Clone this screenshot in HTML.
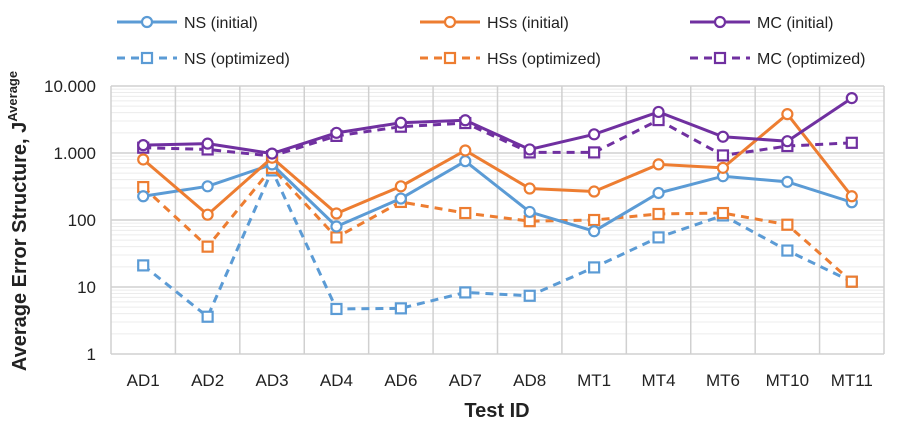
<!DOCTYPE html>
<html><head><meta charset="utf-8"><style>
body{margin:0;background:#fff;font-family:"Liberation Sans",Arial,sans-serif}
svg{display:block}
</style></head><body>
<svg id="chart" width="909" height="432" viewBox="0 0 909 432" xmlns="http://www.w3.org/2000/svg">
<g id="grid"></g>
<g id="series"></g>
<g id="axes"></g>
<g id="legend"></g>
<text x="0" y="0" transform="translate(26,221) rotate(-90)" text-anchor="middle" font-size="20" font-weight="bold" fill="#222">Average Error Structure, J<tspan dy="-9" font-size="13">Average</tspan></text>
<text x="497" y="417" text-anchor="middle" font-size="20" font-weight="bold" fill="#222">Test ID</text>
</svg>
<script>
const categories=["AD1","AD2","AD3","AD4","AD6","AD7","AD8","MT1","MT4","MT6","MT10","MT11"];
const nsInitial=[226,318,676,80,209,755,132,68,253,450,371,184];
const hssInitial=[800,120,850,125,318,1090,295,266,676,600,3800,226];
const mcInitial=[1310,1380,980,2000,2830,3080,1130,1900,4100,1750,1500,6600];
const nsOptimized=[21,3.6,550,4.7,4.8,8.3,7.4,19.6,55,117,35,12];
const hssOptimized=[310,40,600,55,186,127,96,100,123,127,85,12];
const mcOptimized=[1200,1130,900,1800,2470,2800,1020,1020,3100,920,1270,1420];
const yTickLabels=["1","10","100","1.000","10.000"];

const NS="http://www.w3.org/2000/svg";
const L=111,R=884,T=86,B=354;
const xs=i=>L+(R-L)/categories.length*(i+0.5);
const ys=v=>B-(B-T)*Math.log10(v)/4;
function mk(tag,attrs,parent){const e=document.createElementNS(NS,tag);for(const k in attrs)e.setAttribute(k,attrs[k]);parent.appendChild(e);return e;}
const grid=document.getElementById('grid'),axes=document.getElementById('axes'),ser=document.getElementById('series'),leg=document.getElementById('legend');
for(let d=0;d<4;d++)for(let m=2;m<10;m++){const y=ys(Math.pow(10,d)*m);const l=mk('line',{x1:L,x2:R,y1:y,y2:y,stroke:'#ececec','stroke-width':1},grid);

}
yTickLabels.forEach((t,i)=>{const y=ys(Math.pow(10,i));const l=mk('line',{x1:L,x2:R,y1:y,y2:y,stroke:'#d0d0d0','stroke-width':1.5},grid);


const tx=mk('text',{x:96,y:y+6,'text-anchor':'end','font-size':17,fill:'#222'},axes);tx.textContent=t;

});
for(let i=0;i<=categories.length;i++){const x=L+(R-L)/categories.length*i;const l=mk('line',{x1:x,x2:x,y1:T,y2:B,stroke:'#d0d0d0','stroke-width':1.5},grid);

}
categories.forEach((c,i)=>{const tx=mk('text',{x:xs(i),y:386,'text-anchor':'middle','font-size':17,fill:'#222'},axes);tx.textContent=c;

});
const defs=[
 {name:'ns-optimized',data:nsOptimized,color:'#5b9bd5',dash:true,label:'NS (optimized)',lx:117,ly:58},
 {name:'hss-optimized',data:hssOptimized,color:'#ed7d31',dash:true,label:'HSs (optimized)',lx:420,ly:58},
 {name:'mc-optimized',data:mcOptimized,color:'#7030a0',dash:true,label:'MC (optimized)',lx:690,ly:58},
 {name:'ns-initial',data:nsInitial,color:'#5b9bd5',dash:false,label:'NS (initial)',lx:117,ly:22},
 {name:'hss-initial',data:hssInitial,color:'#ed7d31',dash:false,label:'HSs (initial)',lx:420,ly:22},
 {name:'mc-initial',data:mcInitial,color:'#7030a0',dash:false,label:'MC (initial)',lx:690,ly:22}];
function marker(x,y,s,parent){
 if(s.dash)return mk('rect',{x:x-5,y:y-5,width:10,height:10,fill:'#fff',stroke:s.color,'stroke-width':2.2},parent);
 return mk('circle',{cx:x,cy:y,r:5,fill:'#fff',stroke:s.color,'stroke-width':2.2},parent);}
defs.forEach(s=>{const g=mk('g',{},ser);
 
 
 const p=mk('polyline',{points:s.data.map((v,i)=>xs(i)+','+ys(v)).join(' '),fill:'none',stroke:s.color,'stroke-width':3,'stroke-dasharray':s.dash?'8,6':'none'},g);
 
 
 s.data.forEach((v,i)=>{const m=marker(xs(i),ys(v),s,g);
 
 });
 const lg=mk('g',{},leg);
 
 
 mk('line',{x1:s.lx,x2:s.lx+60,y1:s.ly,y2:s.ly,stroke:s.color,'stroke-width':3,'stroke-dasharray':s.dash?'8,6':'none'},lg);
 marker(s.lx+30,s.ly,s,lg);
 const t=mk('text',{x:s.lx+67,y:s.ly+6,'font-size':16,fill:'#222'},lg);t.textContent=s.label;});
</script>
</body></html>
